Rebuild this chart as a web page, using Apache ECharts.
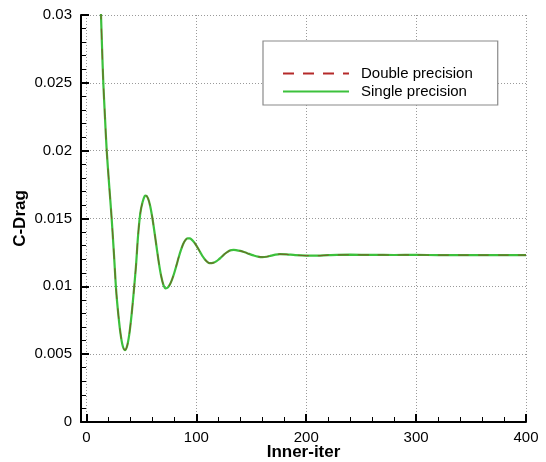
<!DOCTYPE html>
<html>
<head>
<meta charset="utf-8">
<script src="https://cdn.jsdelivr.net/npm/echarts@6/dist/echarts.min.js"></script>
<style>
  html, body { margin: 0; padding: 0; background: #fff; }
  #chart { width: 546px; height: 462px; }
</style>
</head>
<body>
<div id="chart"></div>
<script>
// Convergence history of the drag coefficient
const iterations = [0, 4, 8, 10, 12, 13.2, 14.2, 15.3, 16.8, 18.4, 20.6, 22.9, 24.9, 27, 29, 31, 33, 35,
  37, 39, 41, 43, 45, 47, 49, 51, 53, 54, 56, 58, 60, 62, 64, 66, 68, 70, 72,
  74, 76, 78, 80, 82, 84, 86, 88, 90, 92, 94, 96, 98, 100, 102, 104, 106, 108, 110, 112,
  114, 116, 118, 120, 122, 124, 126, 128, 130, 132, 134, 136, 140, 144, 148, 152, 156, 160,
  164, 168, 172, 176, 182, 190, 200, 210, 220, 240, 260, 280, 300, 320, 340, 360, 380, 400];
const doubleDrag = [0.085, 0.062, 0.046, 0.0405, 0.0335, 0.0300, 0.0275, 0.0250, 0.0225, 0.0200, 0.0175,
  0.0150, 0.0125, 0.0097, 0.0079, 0.0065, 0.0056, 0.0053,
  0.00561, 0.0065, 0.00788, 0.00959, 0.01146, 0.0138, 0.0154, 0.0162, 0.01665, 0.01668,
  0.01648, 0.01591, 0.01502, 0.01393, 0.01277, 0.01166, 0.01074, 0.01011, 0.00985,
  0.00991, 0.01015, 0.01053, 0.01102, 0.01158, 0.01216, 0.01268, 0.01312, 0.01341, 0.01354,
  0.01353, 0.01342, 0.01324, 0.01300, 0.01273, 0.01245, 0.01218, 0.01196, 0.01180, 0.01171,
  0.01171, 0.01175, 0.01184, 0.01196, 0.01210, 0.01225, 0.01240, 0.01252, 0.01262, 0.01267, 0.01268,
  0.01267, 0.01261, 0.01251, 0.01239, 0.01228, 0.01219, 0.01215,
  0.01218, 0.01226, 0.01234, 0.01238, 0.01236, 0.0123, 0.01227, 0.01227, 0.0123, 0.01233, 0.01232,
  0.01231, 0.01232, 0.0123, 0.0123, 0.0123, 0.0123, 0.0123];
const singleDrag = [0.085, 0.062, 0.046, 0.0405, 0.0335, 0.0300, 0.0275, 0.0250, 0.0225, 0.0200, 0.0175,
  0.0150, 0.0125, 0.0097, 0.0079, 0.0065, 0.0056, 0.0053,
  0.00561, 0.0065, 0.00788, 0.00959, 0.01146, 0.0138, 0.0154, 0.0162, 0.01665, 0.01668,
  0.01648, 0.01591, 0.01502, 0.01393, 0.01277, 0.01166, 0.01074, 0.01011, 0.00985,
  0.00991, 0.01015, 0.01053, 0.01102, 0.01158, 0.01216, 0.01268, 0.01312, 0.01341, 0.01354,
  0.01353, 0.01342, 0.01324, 0.01300, 0.01273, 0.01245, 0.01218, 0.01196, 0.01180, 0.01171,
  0.01171, 0.01175, 0.01184, 0.01196, 0.01210, 0.01225, 0.01240, 0.01252, 0.01262, 0.01267, 0.01268,
  0.01267, 0.01261, 0.01251, 0.01239, 0.01228, 0.01219, 0.01215,
  0.01218, 0.01226, 0.01234, 0.01238, 0.01236, 0.0123, 0.01227, 0.01227, 0.0123, 0.01233, 0.01232,
  0.01231, 0.01232, 0.0123, 0.0123, 0.0123, 0.0123, 0.0123];
const xMajorTicks = [0, 100, 200, 300, 400];
const xMinorTicks = [20, 40, 60, 80, 120, 140, 160, 180, 220, 240, 260, 280, 320, 340, 360, 380];
const seriesNames = ['Double precision', 'Single precision'];

const FONT = '"Liberation Sans", Arial, Helvetica, sans-serif';
const pair = (xs, ys) => xs.map((x, i) => [x, ys[i]]);

const chart = echarts.init(document.getElementById('chart'), null, { renderer: 'canvas' });
chart.setOption({
  animation: false,
  backgroundColor: '#ffffff',
  textStyle: { fontFamily: FONT },
  grid: { left: 81, right: 20, top: 15, bottom: 40, containLabel: false, outerBoundsMode: 'none' },
  legend: {
    orient: 'vertical',
    left: 263,
    top: 41,
    padding: [25, 25, 6, 19],
    itemWidth: 66,
    itemHeight: 15,
    itemGap: 3,
    borderColor: '#8a8a8a',
    borderWidth: 1.2,
    backgroundColor: '#ffffff',
    textStyle: { fontFamily: FONT, fontSize: 15, color: '#000', padding: [0, 0, 0, 7] },
    data: [
      { name: seriesNames[0], itemStyle: { opacity: 0 },
        lineStyle: { color: '#b52a2a', width: 2, opacity: 1, type: [11, 9] } },
      { name: seriesNames[1], itemStyle: { opacity: 0 },
        lineStyle: { color: '#3cc13c', width: 2, opacity: 1, type: 'solid' } }
    ]
  },
  xAxis: [{
    type: 'value',
    min: -5,
    max: 400,
    name: 'Inner-iter',
    nameLocation: 'middle',
    nameGap: 22,
    nameMoveOverlap: false,
    nameTextStyle: { fontFamily: FONT, fontSize: 17, fontWeight: 'bold', color: '#000' },
    axisLine: { show: true, onZero: false, lineStyle: { color: '#000', width: 2 } },
    axisTick: { show: true, inside: true, length: 8, customValues: xMajorTicks, lineStyle: { color: '#000', width: 2 } },
    axisLabel: { customValues: xMajorTicks, fontFamily: FONT, fontSize: 15, color: '#000', margin: 8,
      formatter: v => (v % 100 === 0 ? String(v) : '') },
    splitLine: { show: true, lineStyle: { color: '#9a9a9a', width: 1, type: [1, 2] } }
  }, {
    type: 'value',
    min: -5,
    max: 400,
    position: 'bottom',
    axisLine: { show: false },
    axisLabel: { show: false },
    splitLine: { show: false },
    axisTick: { show: true, inside: true, length: 5, customValues: xMinorTicks, lineStyle: { color: '#000', width: 1 } }
  }],
  yAxis: {
    type: 'value',
    min: 0,
    max: 0.03,
    interval: 0.005,
    name: 'C-Drag',
    nameLocation: 'middle',
    nameGap: 52,
    nameMoveOverlap: false,
    nameTextStyle: { fontFamily: FONT, fontSize: 17, fontWeight: 'bold', color: '#000' },
    axisLine: { show: true, onZero: false, lineStyle: { color: '#000', width: 2 } },
    axisTick: { show: true, inside: true, length: 8, lineStyle: { color: '#000', width: 2 } },
    minorTick: { show: true, splitNumber: 5, length: 5, lineStyle: { color: '#000', width: 1 } },
    axisLabel: { fontFamily: FONT, fontSize: 15, color: '#000', margin: 9,
      formatter: v => String(+v.toFixed(3)) },
    splitLine: { show: true, lineStyle: { color: '#9a9a9a', width: 1, type: [1, 2] } }
  },
  series: [{
    name: seriesNames[1],
    type: 'line',
    data: pair(iterations, singleDrag),
    showSymbol: false,
    symbol: 'none',
    smooth: 0.3,
    z: 2,
    lineStyle: { color: '#3cc13c', width: 2.2 }
  }, {
    name: seriesNames[0],
    type: 'line',
    data: pair(iterations, doubleDrag),
    showSymbol: false,
    symbol: 'none',
    smooth: 0.3,
    z: 3,
    lineStyle: { color: '#8a3a1a', width: 1.2, opacity: 0.65, type: [11, 9] }
  }]
});
</script>
</body>
</html>
